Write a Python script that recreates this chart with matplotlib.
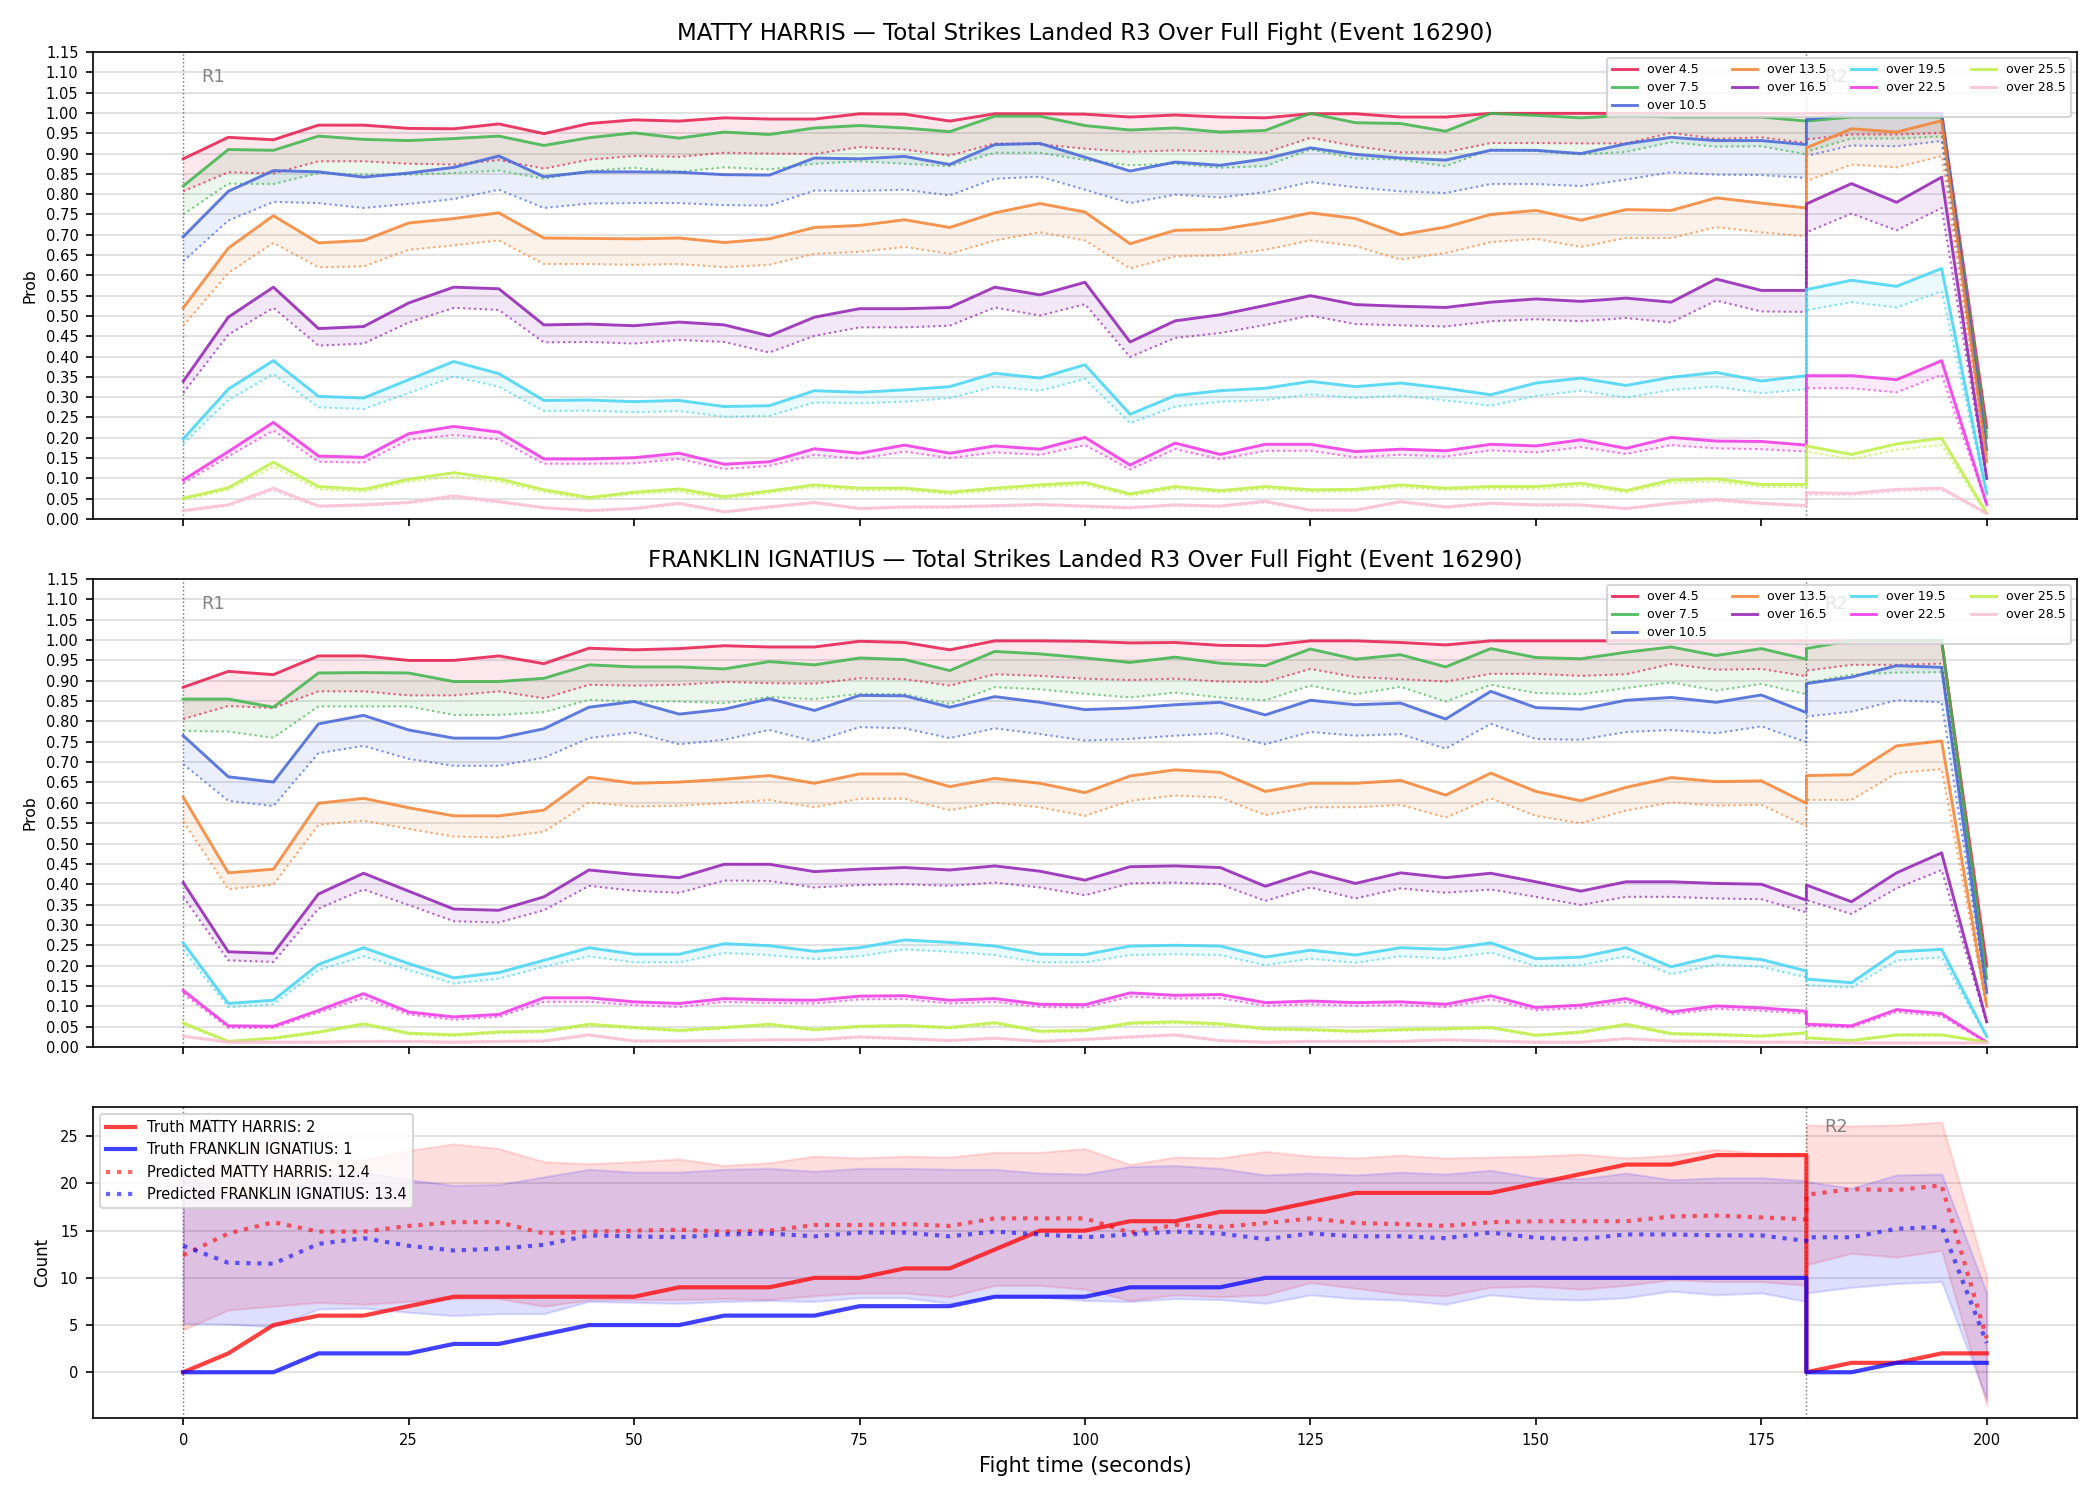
import numpy as np
import matplotlib
matplotlib.use("Agg")
import matplotlib.pyplot as plt

# ---------------- data ----------------
# time grid: round 1 (0..180 step 5) followed by round 2 restart at 180..200
time_r1 = list(range(0, 181, 5))
time_r2 = [180, 185, 190, 195, 200]
time_s = time_r1 + time_r2

thresholds = ["over 4.5", "over 7.5", "over 10.5", "over 13.5", "over 16.5",
              "over 19.5", "over 22.5", "over 25.5", "over 28.5"]
colors = ["#e6194b", "#3cb44b", "#4363d8", "#f58231", "#911eb4",
          "#42d4f4", "#f032e6", "#bfef45", "#fabed4"]

# ---- MATTY HARRIS: solid (live) and dotted (pre) probabilities ----
mh_4_5 = [0.887, 0.940, 0.934, 0.970, 0.970, 0.962, 0.961, 0.973, 0.949, 0.974, 0.983, 0.980,
          0.988, 0.985, 0.985, 0.998, 0.997, 0.980, 0.998, 0.998, 0.997, 0.990, 0.995, 0.990, 0.988, 0.998, 0.998,
          0.990, 0.990, 0.999, 0.999, 0.999, 0.999, 0.999, 0.999, 0.999, 0.998,
          0.999, 0.999, 0.999, 0.999, 0.225]
mh_4_5_pre = [0.807, 0.854, 0.851, 0.881, 0.881, 0.875, 0.873, 0.884, 0.863, 0.885, 0.894, 0.892,
              0.902, 0.900, 0.899, 0.916, 0.910, 0.895, 0.925, 0.923, 0.912, 0.904, 0.908, 0.905, 0.902, 0.939, 0.918,
              0.903, 0.903, 0.926, 0.926, 0.925, 0.925, 0.951, 0.936, 0.940, 0.926,
              0.935, 0.947, 0.947, 0.951, 0.215]
mh_7_5 = [0.820, 0.910, 0.908, 0.943, 0.935, 0.932, 0.937, 0.943, 0.920, 0.939, 0.951, 0.938,
          0.953, 0.947, 0.963, 0.969, 0.963, 0.954, 0.992, 0.992, 0.969, 0.958, 0.963, 0.953, 0.957, 0.999, 0.976,
          0.974, 0.955, 0.999, 0.994, 0.988, 0.994, 0.990, 0.990, 0.990, 0.980,
          0.980, 0.990, 0.990, 0.990, 0.200]
mh_7_5_pre = [0.750, 0.826, 0.825, 0.852, 0.848, 0.848, 0.852, 0.858, 0.838, 0.857, 0.865, 0.855,
              0.866, 0.861, 0.875, 0.881, 0.875, 0.869, 0.902, 0.902, 0.884, 0.871, 0.875, 0.865, 0.869, 0.910, 0.888,
              0.885, 0.869, 0.910, 0.906, 0.898, 0.904, 0.928, 0.917, 0.918, 0.898,
              0.905, 0.937, 0.937, 0.942, 0.210]
mh_10_5 = [0.695, 0.807, 0.858, 0.855, 0.842, 0.852, 0.866, 0.894, 0.843, 0.855, 0.855, 0.854,
           0.848, 0.847, 0.889, 0.887, 0.893, 0.873, 0.922, 0.925, 0.891, 0.857, 0.879, 0.871, 0.887, 0.914, 0.898,
           0.889, 0.884, 0.908, 0.908, 0.900, 0.924, 0.940, 0.932, 0.932, 0.922,
           0.984, 0.998, 0.998, 0.998, 0.170]
mh_10_5_pre = [0.635, 0.735, 0.781, 0.778, 0.766, 0.776, 0.788, 0.811, 0.766, 0.777, 0.778, 0.778,
               0.773, 0.772, 0.809, 0.808, 0.811, 0.797, 0.838, 0.843, 0.811, 0.778, 0.799, 0.792, 0.805, 0.830, 0.817,
               0.807, 0.803, 0.825, 0.825, 0.820, 0.836, 0.854, 0.848, 0.847, 0.840,
               0.894, 0.920, 0.918, 0.931, 0.160]
mh_13_5 = [0.520, 0.667, 0.747, 0.680, 0.686, 0.729, 0.740, 0.754, 0.692, 0.691, 0.690, 0.692,
           0.681, 0.690, 0.718, 0.723, 0.737, 0.718, 0.754, 0.777, 0.756, 0.678, 0.711, 0.713, 0.731, 0.754, 0.740,
           0.700, 0.719, 0.750, 0.760, 0.736, 0.762, 0.760, 0.791, 0.778, 0.766,
           0.914, 0.961, 0.953, 0.981, 0.141]
mh_13_5_pre = [0.476, 0.606, 0.680, 0.620, 0.622, 0.663, 0.674, 0.686, 0.628, 0.628, 0.626, 0.628,
               0.620, 0.626, 0.653, 0.658, 0.670, 0.653, 0.686, 0.706, 0.686, 0.617, 0.647, 0.649, 0.663, 0.686, 0.672,
               0.639, 0.655, 0.682, 0.690, 0.670, 0.692, 0.692, 0.719, 0.706, 0.696,
               0.832, 0.873, 0.866, 0.894, 0.137]
mh_16_5 = [0.339, 0.497, 0.571, 0.469, 0.474, 0.532, 0.571, 0.567, 0.478, 0.480, 0.476, 0.485,
           0.478, 0.451, 0.497, 0.518, 0.518, 0.521, 0.571, 0.552, 0.583, 0.436, 0.488, 0.503, 0.526, 0.550, 0.528,
           0.524, 0.521, 0.534, 0.542, 0.536, 0.544, 0.534, 0.591, 0.563, 0.563,
           0.776, 0.826, 0.780, 0.842, 0.100]
mh_16_5_pre = [0.310, 0.454, 0.520, 0.427, 0.432, 0.484, 0.520, 0.515, 0.435, 0.436, 0.432, 0.441,
               0.436, 0.410, 0.451, 0.472, 0.472, 0.476, 0.521, 0.501, 0.529, 0.399, 0.446, 0.458, 0.478, 0.501, 0.480,
               0.477, 0.474, 0.487, 0.492, 0.487, 0.495, 0.484, 0.538, 0.511, 0.510,
               0.706, 0.752, 0.711, 0.766, 0.096]
mh_19_5 = [0.197, 0.320, 0.390, 0.302, 0.298, 0.343, 0.388, 0.358, 0.292, 0.293, 0.289, 0.292,
           0.277, 0.279, 0.316, 0.312, 0.318, 0.326, 0.359, 0.347, 0.380, 0.258, 0.304, 0.316, 0.322, 0.339, 0.326,
           0.335, 0.322, 0.306, 0.335, 0.347, 0.329, 0.349, 0.361, 0.340, 0.353,
           0.565, 0.588, 0.573, 0.617, 0.062]
mh_19_5_pre = [0.185, 0.293, 0.357, 0.275, 0.271, 0.310, 0.351, 0.326, 0.266, 0.267, 0.263, 0.266,
               0.252, 0.254, 0.287, 0.285, 0.289, 0.298, 0.326, 0.316, 0.345, 0.236, 0.277, 0.289, 0.293, 0.307, 0.298,
               0.304, 0.292, 0.279, 0.303, 0.316, 0.299, 0.318, 0.326, 0.310, 0.320,
               0.514, 0.534, 0.521, 0.561, 0.059]
mh_22_5 = [0.096, 0.166, 0.238, 0.155, 0.152, 0.210, 0.228, 0.214, 0.148, 0.148, 0.151, 0.162,
           0.135, 0.141, 0.173, 0.162, 0.182, 0.162, 0.180, 0.172, 0.201, 0.133, 0.187, 0.159, 0.184, 0.184, 0.166,
           0.172, 0.168, 0.184, 0.180, 0.195, 0.174, 0.201, 0.192, 0.191, 0.182,
           0.353, 0.353, 0.343, 0.390, 0.036]
mh_22_5_pre = [0.088, 0.154, 0.218, 0.141, 0.139, 0.195, 0.207, 0.196, 0.136, 0.136, 0.137, 0.148,
               0.123, 0.131, 0.158, 0.148, 0.166, 0.150, 0.164, 0.158, 0.182, 0.122, 0.172, 0.147, 0.168, 0.168, 0.152,
               0.158, 0.154, 0.169, 0.164, 0.177, 0.160, 0.182, 0.174, 0.172, 0.166,
               0.322, 0.322, 0.312, 0.355, 0.035]
mh_25_5 = [0.051, 0.077, 0.140, 0.080, 0.073, 0.098, 0.114, 0.099, 0.072, 0.053, 0.066, 0.074,
           0.055, 0.069, 0.084, 0.076, 0.076, 0.066, 0.076, 0.084, 0.090, 0.062, 0.080, 0.070, 0.080, 0.072, 0.073,
           0.084, 0.076, 0.080, 0.080, 0.088, 0.070, 0.096, 0.099, 0.085, 0.085,
           0.180, 0.159, 0.185, 0.199, 0.014]
mh_25_5_pre = [0.047, 0.072, 0.129, 0.073, 0.067, 0.092, 0.104, 0.092, 0.066, 0.049, 0.062, 0.067,
               0.050, 0.064, 0.078, 0.070, 0.071, 0.061, 0.070, 0.078, 0.084, 0.057, 0.074, 0.065, 0.074, 0.067, 0.068,
               0.078, 0.071, 0.074, 0.074, 0.081, 0.065, 0.089, 0.092, 0.079, 0.079,
               0.166, 0.147, 0.170, 0.182, 0.012]
mh_28_5 = [0.021, 0.035, 0.076, 0.032, 0.035, 0.041, 0.057, 0.043, 0.028, 0.021, 0.026, 0.039,
           0.018, 0.030, 0.041, 0.026, 0.030, 0.030, 0.033, 0.036, 0.032, 0.028, 0.035, 0.032, 0.044, 0.022, 0.022,
           0.043, 0.030, 0.039, 0.035, 0.035, 0.026, 0.039, 0.048, 0.039, 0.033,
           0.065, 0.063, 0.073, 0.076, 0.014]
mh_28_5_pre = [0.018, 0.032, 0.070, 0.029, 0.032, 0.038, 0.052, 0.040, 0.026, 0.019, 0.024, 0.035,
               0.016, 0.027, 0.038, 0.024, 0.027, 0.027, 0.030, 0.033, 0.029, 0.025, 0.032, 0.029, 0.040, 0.020, 0.020,
               0.040, 0.027, 0.036, 0.032, 0.032, 0.024, 0.036, 0.044, 0.036, 0.030,
               0.060, 0.058, 0.068, 0.071, 0.012]

# ---- FRANKLIN IGNATIUS ----
fi_4_5 = [0.884, 0.923, 0.915, 0.961, 0.961, 0.950, 0.950, 0.961, 0.942, 0.980, 0.976, 0.979,
          0.986, 0.983, 0.983, 0.997, 0.994, 0.976, 0.998, 0.998, 0.997, 0.993, 0.994, 0.987, 0.986, 0.998, 0.998,
          0.994, 0.988, 0.998, 0.998, 0.998, 0.998, 0.998, 0.998, 0.998, 0.998,
          0.998, 0.998, 0.998, 0.998, 0.200]
fi_4_5_pre = [0.806, 0.838, 0.833, 0.874, 0.874, 0.864, 0.864, 0.874, 0.857, 0.890, 0.888, 0.890,
              0.897, 0.894, 0.893, 0.906, 0.904, 0.888, 0.916, 0.912, 0.905, 0.902, 0.905, 0.898, 0.897, 0.929, 0.909,
              0.904, 0.898, 0.917, 0.917, 0.912, 0.916, 0.941, 0.927, 0.929, 0.911,
              0.925, 0.939, 0.939, 0.942, 0.193]
fi_7_5 = [0.855, 0.855, 0.835, 0.919, 0.920, 0.919, 0.898, 0.898, 0.906, 0.939, 0.934, 0.934,
          0.929, 0.947, 0.939, 0.956, 0.952, 0.925, 0.972, 0.966, 0.956, 0.945, 0.958, 0.943, 0.937, 0.978, 0.953,
          0.964, 0.934, 0.979, 0.957, 0.954, 0.970, 0.983, 0.962, 0.979, 0.953,
          0.979, 0.999, 0.999, 0.999, 0.168]
fi_7_5_pre = [0.777, 0.775, 0.760, 0.837, 0.837, 0.837, 0.816, 0.816, 0.823, 0.853, 0.849, 0.849,
              0.845, 0.860, 0.855, 0.868, 0.867, 0.843, 0.884, 0.879, 0.868, 0.859, 0.871, 0.859, 0.852, 0.888, 0.867,
              0.885, 0.849, 0.890, 0.870, 0.867, 0.882, 0.896, 0.876, 0.892, 0.867,
              0.895, 0.915, 0.920, 0.921, 0.164]
fi_10_5 = [0.765, 0.664, 0.651, 0.794, 0.815, 0.779, 0.759, 0.759, 0.782, 0.835, 0.849, 0.818,
           0.830, 0.856, 0.827, 0.864, 0.863, 0.835, 0.861, 0.847, 0.829, 0.833, 0.841, 0.847, 0.816, 0.852, 0.841,
           0.845, 0.806, 0.874, 0.834, 0.830, 0.852, 0.859, 0.847, 0.865, 0.822,
           0.893, 0.909, 0.937, 0.933, 0.135]
fi_10_5_pre = [0.695, 0.605, 0.592, 0.722, 0.740, 0.708, 0.691, 0.691, 0.711, 0.759, 0.773, 0.744,
               0.755, 0.779, 0.751, 0.786, 0.783, 0.759, 0.783, 0.769, 0.753, 0.757, 0.765, 0.771, 0.744, 0.774, 0.765,
               0.769, 0.733, 0.794, 0.757, 0.755, 0.774, 0.779, 0.771, 0.788, 0.749,
               0.812, 0.824, 0.852, 0.847, 0.127]
fi_13_5 = [0.614, 0.428, 0.437, 0.599, 0.611, 0.588, 0.568, 0.568, 0.582, 0.663, 0.648, 0.651,
           0.658, 0.667, 0.648, 0.671, 0.671, 0.640, 0.660, 0.648, 0.625, 0.666, 0.681, 0.675, 0.628, 0.648, 0.648,
           0.655, 0.619, 0.673, 0.628, 0.605, 0.638, 0.662, 0.652, 0.654, 0.599,
           0.667, 0.669, 0.740, 0.752, 0.100]
fi_13_5_pre = [0.554, 0.388, 0.399, 0.546, 0.556, 0.536, 0.517, 0.515, 0.529, 0.601, 0.591, 0.593,
               0.599, 0.607, 0.589, 0.610, 0.610, 0.582, 0.600, 0.589, 0.568, 0.605, 0.618, 0.613, 0.570, 0.589, 0.589,
               0.595, 0.564, 0.611, 0.568, 0.550, 0.581, 0.601, 0.593, 0.595, 0.543,
               0.607, 0.607, 0.673, 0.683, 0.097]
fi_16_5 = [0.404, 0.234, 0.230, 0.376, 0.427, 0.383, 0.339, 0.336, 0.369, 0.435, 0.424, 0.416,
           0.449, 0.449, 0.431, 0.437, 0.441, 0.435, 0.445, 0.432, 0.410, 0.443, 0.445, 0.441, 0.395, 0.431, 0.402,
           0.428, 0.416, 0.427, 0.406, 0.383, 0.406, 0.406, 0.402, 0.400, 0.361,
           0.398, 0.357, 0.428, 0.477, 0.062]
fi_16_5_pre = [0.369, 0.213, 0.209, 0.340, 0.387, 0.349, 0.309, 0.306, 0.336, 0.396, 0.384, 0.379,
               0.409, 0.408, 0.392, 0.398, 0.400, 0.396, 0.404, 0.392, 0.373, 0.402, 0.404, 0.400, 0.359, 0.392, 0.365,
               0.390, 0.379, 0.387, 0.369, 0.349, 0.369, 0.369, 0.365, 0.363, 0.331,
               0.361, 0.327, 0.390, 0.435, 0.058]
fi_19_5 = [0.256, 0.107, 0.115, 0.203, 0.244, 0.205, 0.170, 0.183, 0.213, 0.244, 0.228, 0.228,
           0.254, 0.249, 0.235, 0.244, 0.263, 0.257, 0.248, 0.228, 0.227, 0.248, 0.250, 0.248, 0.221, 0.238, 0.226,
           0.244, 0.240, 0.256, 0.217, 0.221, 0.244, 0.197, 0.224, 0.215, 0.187,
           0.167, 0.158, 0.234, 0.240, 0.026]
fi_19_5_pre = [0.238, 0.098, 0.105, 0.189, 0.223, 0.189, 0.156, 0.168, 0.197, 0.223, 0.208, 0.208,
               0.231, 0.226, 0.216, 0.223, 0.240, 0.234, 0.226, 0.208, 0.208, 0.226, 0.228, 0.226, 0.201, 0.217, 0.207,
               0.223, 0.217, 0.232, 0.199, 0.201, 0.223, 0.179, 0.203, 0.197, 0.171,
               0.152, 0.146, 0.213, 0.220, 0.024]
fi_22_5 = [0.139, 0.052, 0.051, 0.090, 0.131, 0.086, 0.074, 0.080, 0.121, 0.121, 0.111, 0.107,
           0.119, 0.116, 0.115, 0.125, 0.126, 0.115, 0.119, 0.105, 0.104, 0.133, 0.127, 0.129, 0.109, 0.113, 0.109,
           0.111, 0.105, 0.126, 0.097, 0.103, 0.119, 0.086, 0.101, 0.096, 0.088,
           0.056, 0.052, 0.092, 0.082, 0.012]
fi_22_5_pre = [0.131, 0.047, 0.047, 0.084, 0.121, 0.080, 0.067, 0.074, 0.111, 0.111, 0.103, 0.098,
               0.111, 0.108, 0.107, 0.117, 0.118, 0.107, 0.111, 0.098, 0.097, 0.124, 0.119, 0.120, 0.101, 0.105, 0.101,
               0.103, 0.098, 0.117, 0.090, 0.096, 0.111, 0.080, 0.094, 0.089, 0.082,
               0.052, 0.048, 0.086, 0.076, 0.011]
fi_25_5 = [0.059, 0.014, 0.022, 0.037, 0.057, 0.034, 0.030, 0.037, 0.039, 0.056, 0.048, 0.041,
           0.048, 0.056, 0.043, 0.051, 0.053, 0.048, 0.060, 0.039, 0.041, 0.059, 0.062, 0.057, 0.045, 0.043, 0.039,
           0.043, 0.045, 0.048, 0.029, 0.037, 0.056, 0.033, 0.031, 0.027, 0.035,
           0.023, 0.016, 0.030, 0.030, 0.012]
fi_25_5_pre = [0.055, 0.012, 0.019, 0.034, 0.053, 0.031, 0.027, 0.034, 0.036, 0.052, 0.045, 0.038,
               0.045, 0.052, 0.040, 0.048, 0.050, 0.045, 0.056, 0.036, 0.038, 0.055, 0.058, 0.053, 0.042, 0.040, 0.036,
               0.040, 0.042, 0.045, 0.027, 0.034, 0.052, 0.030, 0.028, 0.025, 0.032,
               0.021, 0.014, 0.028, 0.028, 0.011]
fi_28_5 = [0.027, 0.012, 0.012, 0.012, 0.014, 0.014, 0.012, 0.014, 0.015, 0.030, 0.015, 0.015,
           0.016, 0.018, 0.018, 0.025, 0.021, 0.016, 0.022, 0.014, 0.019, 0.025, 0.030, 0.016, 0.012, 0.014, 0.014,
           0.014, 0.018, 0.015, 0.012, 0.012, 0.021, 0.015, 0.014, 0.012, 0.012,
           0.012, 0.010, 0.010, 0.010, 0.010]
fi_28_5_pre = [0.025, 0.010, 0.010, 0.010, 0.012, 0.012, 0.010, 0.012, 0.013, 0.027, 0.013, 0.013,
               0.014, 0.016, 0.016, 0.022, 0.019, 0.014, 0.020, 0.012, 0.017, 0.022, 0.027, 0.014, 0.010, 0.012, 0.012,
               0.012, 0.016, 0.013, 0.010, 0.010, 0.019, 0.013, 0.012, 0.010, 0.010,
               0.010, 0.009, 0.009, 0.009, 0.009]

# ---- cumulative counts panel ----
truth_harris = [0, 2, 5, 6, 6, 7, 8, 8, 8, 8, 8, 9, 9, 9, 10, 10, 11, 11, 13, 15, 15, 16, 16, 17, 17,
                18, 19, 19, 19, 19, 20, 21, 22, 22, 23, 23, 23,
                0, 1, 1, 2, 2]
truth_franklin = [0, 0, 0, 2, 2, 2, 3, 3, 4, 5, 5, 5, 6, 6, 6, 7, 7, 7, 8, 8, 8, 9, 9, 9, 10,
                  10, 10, 10, 10, 10, 10, 10, 10, 10, 10, 10, 10,
                  0, 0, 1, 1, 1]
pred_harris = [12.4, 14.7, 15.9, 14.9, 14.9, 15.5, 15.9, 15.9, 14.7, 14.9, 15.0, 15.1, 14.9, 15.0, 15.6,
               15.6, 15.7, 15.5, 16.3, 16.3, 16.3, 14.8, 15.6, 15.4, 15.8, 16.3, 15.8, 15.7, 15.5, 15.9,
               16.0, 16.0, 16.0, 16.5, 16.6, 16.4, 16.2,
               18.8, 19.4, 19.3, 19.8, 3.6]
pred_franklin = [13.4, 11.6, 11.5, 13.6, 14.2, 13.4, 12.9, 13.1, 13.5, 14.5, 14.4, 14.3, 14.6, 14.7, 14.4,
                 14.8, 14.8, 14.4, 14.9, 14.6, 14.3, 14.6, 14.9, 14.7, 14.1, 14.7, 14.4, 14.4, 14.2, 14.8,
                 14.25, 14.1, 14.6, 14.6, 14.5, 14.5, 13.9,
                 14.3, 14.3, 15.2, 15.4, 3.1]
harris_hi = [20.5, 23.0, 24.8, 22.5, 22.5, 23.5, 24.2, 23.7, 22.3, 22.1, 22.3, 22.6, 21.9, 22.2, 22.9,
             22.7, 22.9, 22.8, 23.3, 23.3, 23.7, 22.0, 22.8, 22.7, 23.4, 22.9, 22.7, 23.0, 22.7, 22.8,
             22.9, 23.1, 22.7, 23.0, 23.6, 23.2, 23.2,
             26.2, 26.1, 26.2, 26.5, 10.1]
harris_lo = [4.5, 6.6, 7.0, 7.4, 7.2, 7.5, 7.8, 7.8, 7.0, 7.65, 7.7, 7.7, 7.8, 7.7, 8.1,
             8.4, 8.4, 8.0, 9.2, 9.2, 8.8, 7.6, 8.2, 8.0, 8.2, 9.5, 8.9, 8.3, 8.1, 9.0,
             9.1, 8.8, 9.2, 9.8, 9.6, 9.6, 9.2,
             11.4, 12.6, 12.2, 12.9, -3.5]
franklin_hi = [21.0, 18.5, 18.5, 20.7, 21.2, 20.4, 19.8, 19.9, 20.7, 21.5, 21.2, 21.2, 21.5, 21.6, 21.3,
               21.6, 21.6, 21.5, 21.5, 21.1, 21.0, 21.8, 21.9, 21.6, 20.9, 21.1, 20.9, 21.2, 21.0, 21.4,
               20.6, 20.5, 21.1, 20.4, 20.6, 20.6, 20.3,
               20.2, 19.5, 20.9, 21.0, 8.4]
franklin_lo = [5.2, 5.1, 4.8, 6.7, 6.8, 6.35, 6.0, 6.2, 6.2, 7.5, 7.4, 7.3, 7.5, 7.6, 7.5,
               7.9, 7.9, 7.3, 8.0, 8.0, 7.6, 7.5, 7.8, 7.7, 7.3, 8.2, 7.8, 7.65, 7.2, 8.2,
               7.8, 7.65, 7.9, 8.6, 8.2, 8.4, 7.5,
               8.4, 9.0, 9.4, 9.6, -2.9]

round_starts = [0, 180]
round_labels = ["R1", "R2"]

harris_live = [mh_4_5, mh_7_5, mh_10_5, mh_13_5, mh_16_5, mh_19_5, mh_22_5, mh_25_5, mh_28_5]
harris_pre = [mh_4_5_pre, mh_7_5_pre, mh_10_5_pre, mh_13_5_pre, mh_16_5_pre, mh_19_5_pre,
              mh_22_5_pre, mh_25_5_pre, mh_28_5_pre]
franklin_live = [fi_4_5, fi_7_5, fi_10_5, fi_13_5, fi_16_5, fi_19_5, fi_22_5, fi_25_5, fi_28_5]
franklin_pre = [fi_4_5_pre, fi_7_5_pre, fi_10_5_pre, fi_13_5_pre, fi_16_5_pre, fi_19_5_pre,
                fi_22_5_pre, fi_25_5_pre, fi_28_5_pre]

# ---------------- plotting ----------------
plt.rcParams['font.family'] = ['DejaVu Sans']
fig = plt.figure(figsize=(14, 10), dpi=150)
L, W = 0.0443, 0.9447
ax1 = fig.add_axes([L, 0.654, W, 0.3113])
ax2 = fig.add_axes([L, 0.302, W, 0.312], sharex=ax1)
ax3 = fig.add_axes([L, 0.0547, W, 0.2073], sharex=ax1)

T = np.array(time_s, dtype=float)


def round_marks(ax):
    for x0, lab in zip(round_starts, round_labels):
        ax.axvline(x0, color='#555555', ls=':', lw=0.7, alpha=0.8, zorder=1)
        ax.text(x0 + 2, 0.965, lab, transform=ax.get_xaxis_transform(),
                ha='left', va='top', fontsize=8.5, color='#666666', alpha=0.8)


def prob_panel(ax, live, pre, title):
    for lab, c, s, d in zip(thresholds, colors, live, pre):
        ax.fill_between(T, s, d, color=c, alpha=0.1, lw=0)
        ax.plot(T, d, color=c, lw=1.0, ls=':', alpha=0.7)
        ax.plot(T, s, color=c, lw=1.4, alpha=0.85, label=lab)
    round_marks(ax)
    ax.set_ylim(0, 1.15)
    ax.set_yticks(np.arange(0, 1.151, 0.05))
    ax.set_yticklabels([f"{v:.2f}" for v in np.arange(0, 1.151, 0.05)])
    ax.grid(axis='y', color='#dddddd', lw=0.8)
    ax.set_axisbelow(True)
    ax.set_ylabel("Prob", fontsize=7.5)
    ax.set_title(title, fontsize=11)
    ax.tick_params(labelsize=7)
    ax.tick_params(axis='x', labelbottom=False)
    ax.legend(loc='upper right', ncol=4, fontsize=6, framealpha=0.8,
              labelspacing=0.4)


prob_panel(ax1, harris_live, harris_pre,
           "MATTY HARRIS \u2014 Total Strikes Landed R3 Over Full Fight (Event 16290)")
prob_panel(ax2, franklin_live, franklin_pre,
           "FRANKLIN IGNATIUS \u2014 Total Strikes Landed R3 Over Full Fight (Event 16290)")

ax3.fill_between(T, harris_lo, harris_hi, color='red', alpha=0.13)
ax3.fill_between(T, franklin_lo, franklin_hi, color='blue', alpha=0.13)
ax3.plot(T, truth_harris, color='red', lw=2, alpha=0.75,
         label=f"Truth MATTY HARRIS: {truth_harris[-1]}")
ax3.plot(T, truth_franklin, color='blue', lw=2, alpha=0.75,
         label=f"Truth FRANKLIN IGNATIUS: {truth_franklin[-1]}")
ax3.plot(T, pred_harris, color='red', lw=2, ls=':', alpha=0.6,
         label=f"Predicted MATTY HARRIS: {pred_harris[0]}")
ax3.plot(T, pred_franklin, color='blue', lw=2, ls=':', alpha=0.6,
         label=f"Predicted FRANKLIN IGNATIUS: {pred_franklin[0]}")
round_marks(ax3)
ax3.set_ylim(-4.84, 28.1)
ax3.set_yticks([0, 5, 10, 15, 20, 25])
ax3.grid(axis='y', color='#dddddd', lw=0.8)
ax3.set_axisbelow(True)
ax3.set_ylabel("Count", fontsize=8)
ax3.set_xlabel("Fight time (seconds)", fontsize=10)
ax3.tick_params(labelsize=7)
ax3.legend(loc='upper left', fontsize=7, framealpha=0.8)

ax1.set_xlim(-10, 210)
ax1.set_xticks([0, 25, 50, 75, 100, 125, 150, 175, 200])

fig.savefig("out.png", dpi=150)
